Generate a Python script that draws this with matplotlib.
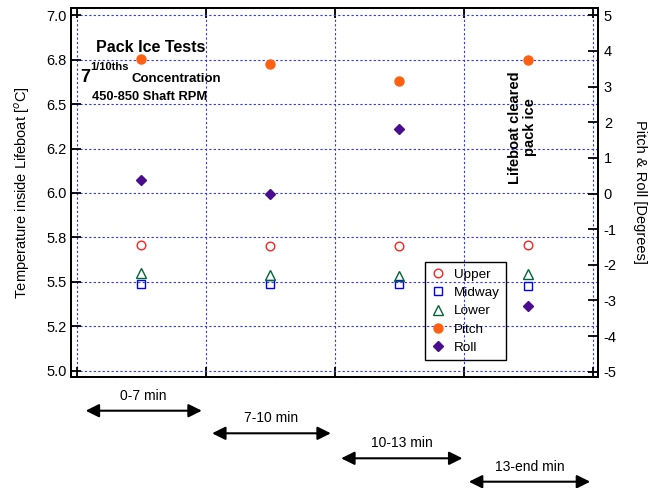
import numpy as np
import matplotlib
matplotlib.use('Agg')
import matplotlib.pyplot as plt
import matplotlib.transforms as mtransforms

plt.rcParams['font.family'] = ['Liberation Sans', 'DejaVu Sans']
plt.rcParams['axes.unicode_minus'] = False

# stage positions (middle of each time window)
stages = [0.5, 1.5, 2.5, 3.5]

# temperatures inside the lifeboat [C]
upper = [5.71, 5.70, 5.70, 5.71]
midway = [5.49, 5.49, 5.487, 5.477]
lower = [5.549, 5.538, 5.534, 5.546]

# pitch & roll [degrees]
pitch = [3.77, 3.64, 3.16, 3.75]
roll = [0.38, -0.01, 1.80, -3.15]

temp_ticks = [5.0, 5.25, 5.5, 5.75, 6.0, 6.25, 6.5, 6.75, 7.0]
temp_labels = ['5.0', '5.2', '5.5', '5.8', '6.0', '6.2', '6.5', '6.8', '7.0']
angle_ticks = list(range(-5, 6))

windows = ['0-7 min', '7-10 min', '10-13 min', '13-end min']
win_start = [0.07, 1.05, 2.05, 3.04]
win_end = [0.97, 1.97, 2.99, 3.98]

W, H = 654, 488
fig = plt.figure(figsize=(W / 100, H / 100), dpi=100)
ax = fig.add_axes([70.7 / W, 1 - 376.7 / H, (598.3 - 70.7) / W, (376.7 - 8) / H])
ax2 = ax.twinx()

def px(x, y):
    return x / W, 1 - y / H

ax.set_xlim(-0.046, 4.043)
ax.set_ylim(4.966, 7.041)
ax2.set_ylim(-5.14, 5.205)

ax.set_xticks([0, 1, 2, 3, 4])
ax.set_xticklabels([])
ax.set_yticks(temp_ticks)
ax.set_yticklabels(temp_labels)
ax2.set_yticks(angle_ticks)

ax.tick_params(axis='x', direction='in', length=7.5, width=1.3, top=True, bottom=True)
ax.tick_params(axis='y', direction='in', length=7.5, width=1.3, labelsize=10.5, pad=3)
ax2.tick_params(axis='y', direction='in', length=7.5, width=1.3, labelsize=10.5, pad=4)

for a in (ax, ax2):
    for s in a.spines.values():
        s.set_linewidth(1.4)

ax.grid(True, color='#3333ff', linestyle=(0, (2, 2)), linewidth=0.8)
ax.set_axisbelow(True)

h1, = ax.plot(stages, upper, 'o', mfc='none', mec='#ff2020', ms=6.2, mew=1, label='Upper')
h2, = ax.plot(stages, midway, 's', mfc='none', mec='#0000ff', ms=6, mew=1, label='Midway')
h3, = ax.plot(stages, lower, '^', mfc='none', mec='#006633', ms=6.5, mew=1, label='Lower')
h4, = ax2.plot(stages, pitch, 'o', color='#ff6010', ms=6.5, label='Pitch')
h5, = ax2.plot(stages, roll, 'D', color='#4b0d8f', ms=5, label='Roll')

ax.set_ylabel('Temperature inside Lifeboat [$^o$C]', fontsize=10.5, labelpad=10)
ax2.set_ylabel('Pitch & Roll [Degrees]', fontsize=10.5, rotation=-90, labelpad=22)

leg = ax2.legend(handles=[h1, h2, h3, h4, h5], loc='upper left',
                 bbox_to_anchor=(0.6715, 0.311), borderaxespad=0,
                 fontsize=9.7, labelspacing=0.44, handlelength=1.1, handletextpad=0.6,
                 borderpad=0.45, fancybox=False, framealpha=1, facecolor='none',
                 edgecolor='black')
leg.get_frame().set_linewidth(1.0)

# notes in the upper left
fig.text(*px(96, 48), 'Pack Ice Tests', fontsize=11.5, fontweight='bold', va='center', ha='left')
fig.text(*px(80, 77), '7', fontsize=13, fontweight='bold', va='center', ha='left')
fig.text(*px(90, 67), '1/10ths', fontsize=8, fontweight='bold', va='center', ha='left')
fig.text(*px(131, 79), 'Concentration', fontsize=9.5, fontweight='bold', va='center', ha='left')
fig.text(*px(92, 97), '450-850 Shaft RPM', fontsize=9.3, fontweight='bold', va='center', ha='left')

ax.text(3.455, 6.37, 'Lifeboat cleared\npack ice', rotation=90, fontsize=10.5,
        fontweight='bold', ha='center', va='center', linespacing=1.05)

# time windows under the axes
trans = mtransforms.blended_transform_factory(ax.transData, fig.transFigure)
arrow_y = [410.7, 433.3, 458.3, 481.7]
for name, x0, x1, ay in zip(windows, win_start, win_end, arrow_y):
    y = 1 - ay / H
    ax.annotate('', xy=(x1, y), xytext=(x0, y), xycoords=trans, textcoords=trans,
                arrowprops=dict(arrowstyle='<|-|>', color='black', lw=1.5,
                                mutation_scale=20, shrinkA=0, shrinkB=0),
                annotation_clip=False)
    ax.text((x0 + x1) / 2, 1 - (ay - 15) / H, name, transform=trans,
            ha='center', va='center', fontsize=10)

fig.savefig('out.png', dpi=100)
